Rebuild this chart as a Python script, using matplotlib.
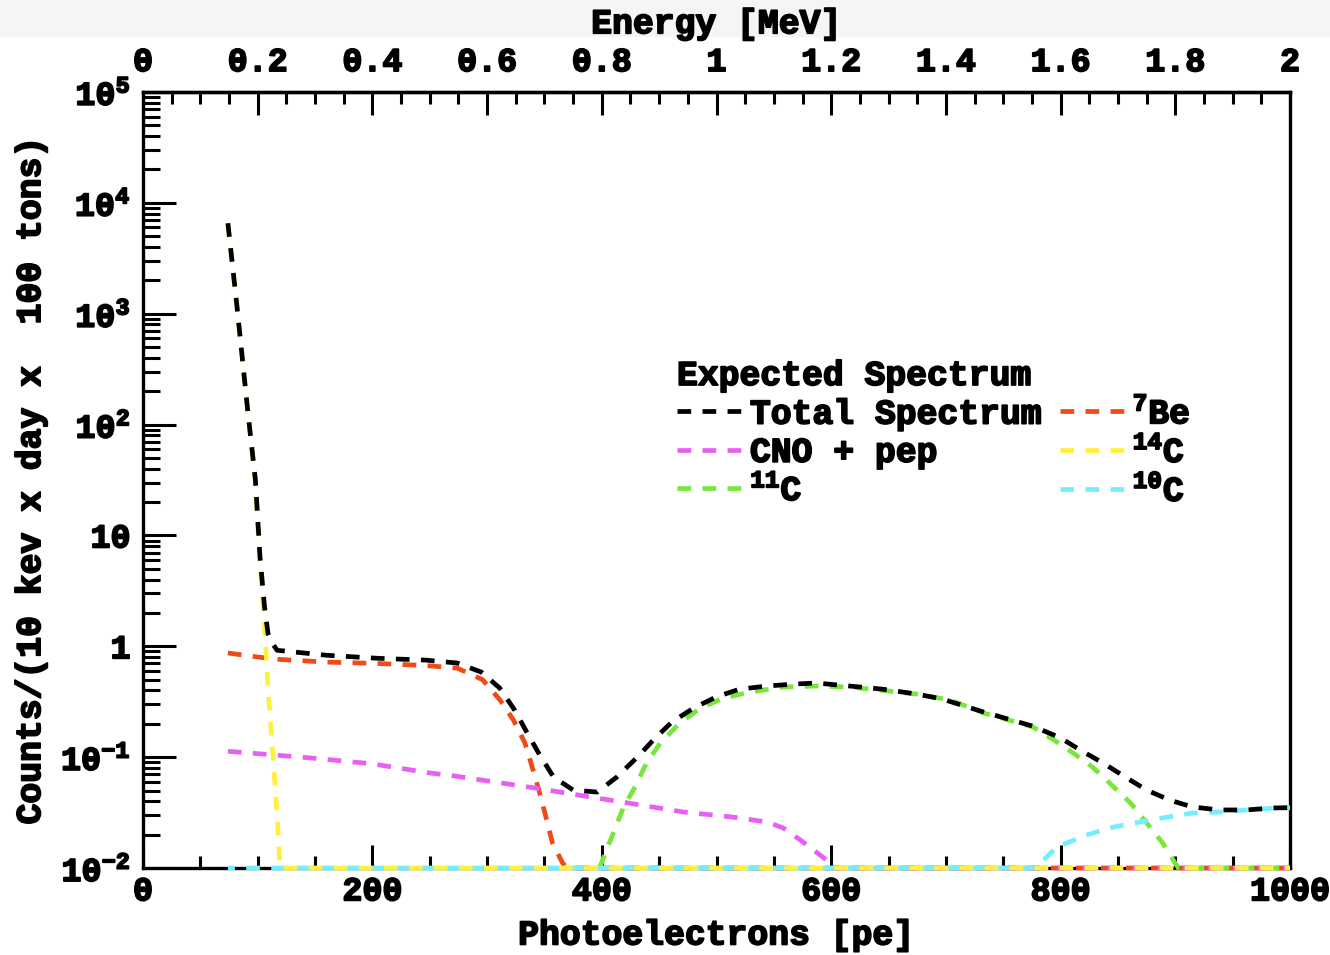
import numpy as np
import matplotlib
matplotlib.use("Agg")
import matplotlib.pyplot as plt
import matplotlib.patheffects as pe
from matplotlib.ticker import FixedLocator, MultipleLocator, FixedFormatter, LogLocator, NullFormatter
from matplotlib.patches import Rectangle

plt.rcParams['font.family'] = ['Liberation Mono', 'DejaVu Sans Mono']
plt.rcParams['font.weight'] = 'bold'
plt.rcParams['axes.labelweight'] = 'bold'
plt.rcParams['mathtext.fontset'] = 'custom'
for k in ['rm', 'it', 'bf', 'sf', 'tt']:
    plt.rcParams['mathtext.' + k] = 'Liberation Mono:bold'
plt.rcParams['mathtext.default'] = 'rm'

# photoelectrons [pe] and counts
total_x = [74, 82, 91, 98, 102, 106, 109, 113, 117, 160, 204, 247, 274, 295, 311, 324, 335, 346,
           358, 375, 396, 413, 431, 445, 461, 480, 500, 520, 544, 567, 587, 616, 645, 675, 697,
           733, 776, 800, 817, 837, 858, 875, 895, 915, 939, 962, 985, 1000]
total_y = [6550, 1145, 143, 31.5, 6.4, 2.25, 1.3, 1.05, 0.92, 0.83, 0.78, 0.75, 0.706, 0.585,
           0.42, 0.266, 0.165, 0.104, 0.066, 0.0505, 0.0484, 0.066, 0.1, 0.143, 0.207, 0.277,
           0.35, 0.41, 0.438, 0.456, 0.466, 0.438, 0.41, 0.37, 0.334, 0.255, 0.19, 0.149, 0.116,
           0.0885, 0.0646, 0.0505, 0.041, 0.0355, 0.0334, 0.0334, 0.0348, 0.035]

be7_x = [74, 100, 120, 160, 204, 247, 274, 296, 311, 323, 333, 340, 346, 352, 357, 366, 370, 1000]
be7_y = [0.87, 0.80, 0.76, 0.72, 0.70, 0.67, 0.635, 0.50, 0.33, 0.216, 0.134, 0.077, 0.047,
         0.027, 0.0168, 0.011, 0.01, 0.01]

cno_x = [74, 148, 200, 250, 270, 340, 390, 427, 471, 514, 544, 558, 573, 587, 596, 600, 1000]
cno_y = [0.113, 0.098, 0.087, 0.072, 0.068, 0.053, 0.0437, 0.038, 0.032, 0.0288, 0.026, 0.023,
         0.0179, 0.0139, 0.0118, 0.01, 0.01]

c14_x = [74, 82, 91, 98, 102, 106, 109, 113, 117, 119.5, 1000]
c14_y = [6550, 1145, 143, 31, 5.6, 1.5, 0.42, 0.116, 0.029, 0.01, 0.01]

c11_x = [398, 410, 419, 429, 439, 451, 468, 486, 506, 529, 558, 587, 616, 645, 675, 704, 733,
         776, 794, 811, 828, 843, 861, 875, 889, 900, 903, 1000]
c11_y = [0.01, 0.0207, 0.0355, 0.054, 0.0885, 0.134, 0.203, 0.277, 0.341, 0.386, 0.429, 0.438,
         0.429, 0.40, 0.37, 0.327, 0.25, 0.187, 0.143, 0.109, 0.081, 0.058, 0.0385, 0.0255,
         0.0168, 0.011, 0.01, 0.01]

c10_x = [74, 778, 797, 823, 846, 869, 893, 915, 939, 962, 989, 1000]
c10_y = [0.01, 0.01, 0.0155, 0.0199, 0.0234, 0.026, 0.0288, 0.0313, 0.032, 0.0334, 0.0348, 0.035]

y_ticks = [1e-2, 1e-1, 1, 10, 1e2, 1e3, 1e4, 1e5]
y_ticklabels = ['$10^{-2}$', '$10^{-1}$', '1', '10', '$10^{2}$', '$10^{3}$', '$10^{4}$', '$10^{5}$']
pe_ticks = [0, 200, 400, 600, 800, 1000]
mev_ticks = [0, 0.2, 0.4, 0.6, 0.8, 1, 1.2, 1.4, 1.6, 1.8, 2]
mev_ticklabels = ['0', '0.2', '0.4', '0.6', '0.8', '1', '1.2', '1.4', '1.6', '1.8', '2']

heavy = [pe.withStroke(linewidth=1.3, foreground='black')]

fig = plt.figure(figsize=(13.3, 9.55), dpi=100)
fig.patches.append(Rectangle((0, 1 - 36 / 955), 1, 36 / 955, transform=fig.transFigure,
                             color='#f3f5f7', zorder=-10))
ax = fig.add_axes([143 / 1330, 1 - 868 / 955, (1290 - 143) / 1330, (868 - 92) / 955])
ax.set_yscale('log')
ax.set_xlim(0, 1000)
ax.set_ylim(1e-2, 1e5)

lw = 3.4
pattern = (2.9, 2.4)
period = sum(pattern)

# shift the 10C dashes so they alternate with the 14C dashes along the floor
pts = ax.transData.transform(np.column_stack([c14_x[:10], c14_y[:10]]))
arc = np.sum(np.hypot(*np.diff(pts, axis=0).T))
x0 = ax.transData.transform((c10_x[0], c10_y[0]))[0]
shift = (arc - (pts[-1, 0] - x0)) * 72 / fig.dpi / lw
c10_off = (shift + period / 2) % period

kw = dict(lw=lw, clip_on=False, zorder=3)
l_be, = ax.plot(be7_x, be7_y, color='#f04a18', ls=(0, pattern), label='$^{7}$Be', **kw)
l_cno, = ax.plot(cno_x, cno_y, color='#e860f2', ls=(0, pattern), label='CNO + pep', **kw)
l_c11, = ax.plot(c11_x, c11_y, color='#78e63c', ls=(0, pattern), label='$^{11}$C', **kw)
l_c10, = ax.plot(c10_x, c10_y, color='#74eefc', ls=(c10_off, pattern), label='$^{10}$C', **kw)
l_c14, = ax.plot(c14_x, c14_y, color='#fff03c', ls=(0, pattern), label='$^{14}$C', **kw)
l_tot, = ax.plot(total_x, total_y, color='black', ls=(0, pattern), label='Total Spectrum', **kw)

ax.xaxis.set_major_locator(FixedLocator(pe_ticks))
ax.xaxis.set_minor_locator(MultipleLocator(50))
ax.yaxis.set_major_locator(FixedLocator(y_ticks))
ax.set_yticklabels(y_ticklabels)
ax.yaxis.set_minor_locator(LogLocator(base=10, subs=np.arange(2, 10), numticks=50))
ax.yaxis.set_minor_formatter(NullFormatter())

ax.tick_params(axis='x', which='both', direction='in', top=False, width=2.2, labelsize=24, pad=6)
ax.tick_params(axis='x', which='major', length=16.5)
ax.tick_params(axis='x', which='minor', length=8.6)
ax.tick_params(axis='y', which='both', direction='in', right=False, width=2.2, labelsize=24, pad=9)
ax.tick_params(axis='y', which='major', length=24)
ax.tick_params(axis='y', which='minor', length=12)
for s in ax.spines.values():
    s.set_linewidth(2.4)

sec = ax.secondary_xaxis('top', functions=(lambda x: x / 500, lambda e: e * 500))
sec.xaxis.set_major_locator(FixedLocator(mev_ticks))
sec.xaxis.set_major_formatter(FixedFormatter(mev_ticklabels))
sec.xaxis.set_minor_locator(MultipleLocator(0.05))
sec.tick_params(which='both', direction='in', width=2.2, labelsize=24, pad=10)
sec.tick_params(which='major', length=16.5)
sec.tick_params(which='minor', length=8.6)
sec.spines['top'].set_linewidth(2.4)
sec.set_xlabel('Energy [MeV]', fontsize=25, labelpad=10)

ax.set_xlabel('Photoelectrons [pe]', fontsize=25, labelpad=8)
ax.set_ylabel('Counts/(10 kev x day x  100 tons)', fontsize=25, labelpad=10)

leg = ax.legend(handles=[l_tot, l_cno, l_c11, l_be, l_c14, l_c10], ncol=2,
                title='Expected Spectrum', alignment='left', frameon=False,
                fontsize=25, title_fontsize=25, handlelength=1.95, handletextpad=0.15,
                columnspacing=0.5, labelspacing=0.15, borderpad=0, borderaxespad=0,
                loc='upper left', bbox_to_anchor=(677 / 1330, 1 - 359 / 955),
                bbox_transform=fig.transFigure)
for h in leg.get_lines():
    h.set_linestyle((0, pattern))

texts = [ax.xaxis.label, ax.yaxis.label, sec.xaxis.label, leg.get_title()] + leg.get_texts()
texts += ax.get_xticklabels() + ax.get_yticklabels() + sec.get_xticklabels()
for t in texts:
    t.set_path_effects(heavy)

fig.savefig('out.png', dpi=100)
